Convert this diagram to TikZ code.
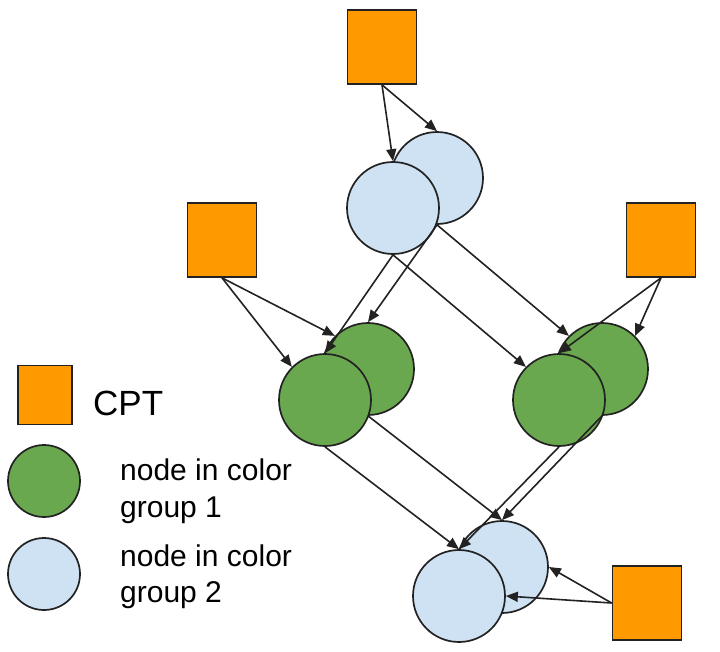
\documentclass[tikz,border=0pt]{standalone}
\usepackage{fontspec}
\setmainfont{Liberation Sans}
\usetikzlibrary{arrows.meta}
\definecolor{CptOrange}{RGB}{255,153,0}
\definecolor{GroupGreen}{RGB}{106,168,79}
\definecolor{GroupBlue}{RGB}{207,226,243}
\definecolor{EdgeGray}{RGB}{34,34,34}

\begin{document}
\begin{tikzpicture}[x=1pt,y=-1pt,
  cpt/.style={draw=EdgeGray,fill=CptOrange,line width=1.7pt,inner sep=0pt,
    minimum width=69pt,minimum height=74pt},
  vnode/.style={circle,draw=EdgeGray,line width=1.7pt,inner sep=0pt,minimum size=92pt},
  link/.style={EdgeGray,line width=1.6pt,-{Triangle[length=12pt,width=10pt]}}]
  \useasboundingbox (0,0) rectangle (720,651);

  % CPT squares
  \node[cpt] (cptTop) at (382,47) {};
  \node[cpt] (cptL) at (222,240) {};
  \node[cpt] (cptR) at (661,240) {};
  \node[cpt] (cptBot) at (647,603) {};

  % back circles first, front circles on top
  \foreach \name/\pos/\col in {
    topB/{(437,178)}/GroupBlue,
    topF/{(393,208)}/GroupBlue,
    leftB/{(368,369)}/GroupGreen,
    leftF/{(325,400)}/GroupGreen,
    rightB/{(602,369)}/GroupGreen,
    rightF/{(559,400)}/GroupGreen,
    botB/{(502,567)}/GroupBlue,
    botF/{(459,596)}/GroupBlue}{
    \node[vnode,fill=\col] (\name) at \pos {};
  }

  % Edges
  \foreach \a/\b in {
    cptTop.south/topF.north, cptTop.south/topB.north,
    topF.south/leftF.north, topB.south/leftB.north,
    topF.south/rightF.135, topB.south/rightB.135,
    cptL.south/leftF.135, cptL.south/leftB.135,
    cptR.south/rightB.45, cptR.south/rightF.north,
    leftB.south/botB.north, leftF.south/botF.north,
    rightB.south/botB.north, rightF.south/botF.north,
    cptBot.west/botB.east, cptBot.west/botF.east}{
    \draw[link] (\a) -- (\b);
  }

  % Legend
  \node[cpt,minimum width=54pt,minimum height=59pt] (legCpt) at (45,395) {};
  \node[font=\fontsize{35}{40}\selectfont,anchor=base west,inner sep=0pt] (legCptText) at (93,415) {CPT};
  \node[vnode,fill=GroupGreen,minimum size=72pt] (legG1) at (44,481) {};
  \node[font=\fontsize{30}{37}\selectfont,align=left,anchor=west,inner sep=0pt] (legG1Text) at (120,491) {node in color\\group 1};
  \node[vnode,fill=GroupBlue,minimum size=72pt] (legG2) at (44,574) {};
  \node[font=\fontsize{30}{36}\selectfont,align=left,anchor=west,inner sep=0pt] (legG2Text) at (120,577) {node in color\\group 2};
\end{tikzpicture}
\end{document}
